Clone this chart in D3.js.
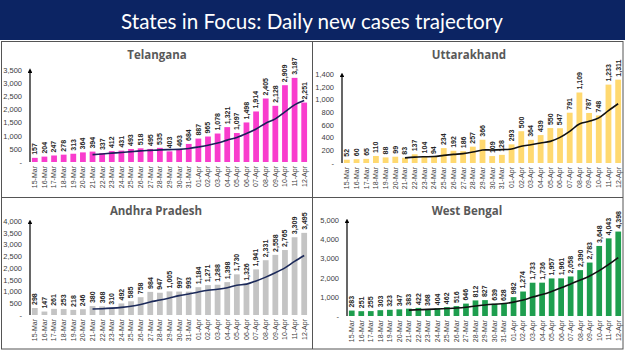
<!DOCTYPE html>
<html><head><meta charset="utf-8">
<script src="https://cdn.jsdelivr.net/npm/d3@7"></script>
<style>
body{margin:0;background:#fff;}
svg{display:block;}
</style></head>
<body>
<svg id="c" width="625" height="351"></svg>
<script>
const dates = ["15-Mar","16-Mar","17-Mar","18-Mar","19-Mar","20-Mar","21-Mar","22-Mar","23-Mar","24-Mar","25-Mar","26-Mar","27-Mar","28-Mar","29-Mar","30-Mar","31-Mar","01-Apr","02-Apr","03-Apr","04-Apr","05-Apr","06-Apr","07-Apr","08-Apr","09-Apr","10-Apr","11-Apr","12-Apr"];
const trendDates = dates.slice(6);

const telangana = [157,204,247,278,313,364,394,337,412,431,493,518,495,535,403,463,684,887,965,1078,1321,1097,1498,1914,2405,2128,2909,3187,2251];
const telanganaTrend = [280,305,335,361,392,421,440,460,470,477,513,569,633,716,829,928,1076,1251,1468,1634,1896,2163,2327];

const uttarakhand = [52,60,65,110,88,99,83,137,104,94,234,192,186,257,366,109,128,293,500,364,439,550,547,791,1109,787,748,1233,1311];
const uttarakhandTrend = [80,92,98,102,120,135,147,172,205,205,210,219,263,288,314,340,403,498,614,655,710,824,932];

const andhra = [298,147,261,253,218,246,380,368,310,492,585,758,984,947,1005,997,993,1184,1271,1288,1398,1730,1326,1941,2331,2558,2765,3309,3495];
const andhraTrend = [258,268,291,324,371,448,554,635,726,824,896,981,1054,1098,1162,1266,1313,1448,1612,1796,2007,2280,2532];

const westBengal = [283,251,255,303,323,347,383,422,368,404,462,516,646,812,827,639,628,982,1274,1733,1736,1957,1961,2058,2390,2783,3648,4043,4398];
const westBengalTrend = [306,326,343,364,387,415,457,519,576,615,647,721,830,985,1117,1278,1467,1672,1873,2088,2362,2691,3040];

const telanganaTicks = [0,500,1000,1500,2000,2500,3000,3500];
const uttarakhandTicks = [0,200,400,600,800,1000,1200,1400];
const andhraTicks = [0,500,1000,1500,2000,2500,3000,3500,4000];
const westBengalTicks = [0,1000,2000,3000,4000,5000];

const panels = [
  {name:"Telangana", vals:telangana, trend:telanganaTrend, ticks:telanganaTicks, color:"#f93ccd", lineColor:"#1c1f5a",
   titleX:157, titleY:59, x0:30, x1:309, y0:162, yT:69.6},
  {name:"Uttarakhand", vals:uttarakhand, trend:uttarakhandTrend, ticks:uttarakhandTicks, color:"#ffd970", lineColor:"#111111",
   titleX:469, titleY:59, x0:342, x1:623, y0:163, yT:74},
  {name:"Andhra Pradesh", vals:andhra, trend:andhraTrend, ticks:andhraTicks, color:"#c4c4c4", lineColor:"#1c2a5a",
   titleX:156, titleY:215, x0:30, x1:309, y0:315, yT:221},
  {name:"West Bengal", vals:westBengal, trend:westBengalTrend, ticks:westBengalTicks, color:"#1e9e4e", lineColor:"#111111",
   titleX:467, titleY:215, x0:347, x1:623, y0:316, yT:220}
];

const svg = d3.select("#c");
const defs = svg.append("defs");
defs.append("marker").attr("id","arr").attr("viewBox","0 0 6 6").attr("refX",3).attr("refY",3)
  .attr("markerWidth",4).attr("markerHeight",4).attr("orient","auto")
  .append("path").attr("d","M0,0 L6,3 L0,6 Z").attr("fill","#000");

// title bar
svg.append("rect").attr("x",0).attr("y",0).attr("width",625).attr("height",40).attr("fill","#0c2463");
const title = svg.append("text").attr("x",312).attr("y",29).attr("text-anchor","middle")
  .attr("fill","#fff").style("font-family","Lato, 'Open Sans', sans-serif").style("font-size","26px")
  .text("States in Focus: Daily new cases trajectory");
{
  const w = title.node().getComputedTextLength();
  const fs = 26 * 382 / w;
  title.style("font-size", fs.toFixed(2)+"px");
}

// panel borders
const bc = "#555";
svg.append("rect").attr("x",1.5).attr("y",41.5).attr("width",621.5).attr("height",307.5).attr("fill","none").attr("stroke",bc).attr("stroke-width",1);
svg.append("line").attr("x1",312.5).attr("x2",312.5).attr("y1",41.5).attr("y2",349).attr("stroke",bc);
svg.append("line").attr("x1",1.5).attr("x2",623).attr("y1",197.5).attr("y2",197.5).attr("stroke",bc);

panels.forEach(p => {
  const g = svg.append("g");
  const x = d3.scaleBand().domain(dates).range([p.x0, p.x1]).paddingInner(0.4).paddingOuter(0.2);
  const maxT = p.ticks[p.ticks.length-1];
  const y = d3.scaleLinear().domain([0, maxT]).range([p.y0, p.yT]);

  g.append("text").attr("x",p.titleX).attr("y",p.titleY).attr("text-anchor","middle")
    .attr("fill","#595959").style("font-family","'Open Sans', 'DejaVu Sans', sans-serif")
    .style("font-size","11.5px").style("font-weight","bold").text(p.name);

  // y axis
  const ya = d3.axisLeft(y).tickValues(p.ticks).tickSize(0).tickPadding(8)
    .tickFormat(v => v === 0 ? "-" : d3.format(",")(v));
  const ag = g.append("g").attr("transform",`translate(${p.x0},0)`).call(ya);
  ag.select(".domain").remove();
  ag.selectAll("text").attr("fill","#404040").style("font-family","'Liberation Sans', Arial, sans-serif").style("font-size","7.5px");
  g.append("line").attr("x1",p.x0).attr("x2",p.x0).attr("y1",p.y0).attr("y2",y(maxT)+1)
    .attr("stroke","#000").attr("stroke-width",1.2).attr("marker-end","url(#arr)");

  // bars
  g.selectAll("rect.bar").data(p.vals).join("rect").attr("class","bar")
    .attr("x",(d,i)=>x(dates[i])).attr("width",x.bandwidth())
    .attr("y",d=>y(d)).attr("height",d=>p.y0-y(d)).attr("fill",p.color);

  // value labels
  g.selectAll("text.vl").data(p.vals).join("text").attr("class","vl")
    .attr("transform",(d,i)=>`translate(${x(dates[i])+x.bandwidth()/2+2.4},${y(d)-3}) rotate(-90)`)
    .attr("text-anchor","start").attr("fill","#262626")
    .style("font-family","'Liberation Sans', Arial, sans-serif").style("font-size","7px").style("font-weight","bold")
    .text(d=>d3.format(",")(d));

  // x labels
  g.selectAll("text.xl").data(dates).join("text").attr("class","xl")
    .attr("transform",d=>`translate(${x(d)+x.bandwidth()/2+2.4},${p.y0+4}) rotate(-90)`)
    .attr("text-anchor","end").attr("fill","#404040")
    .style("font-family","'Liberation Sans', Arial, sans-serif").style("font-size","7px")
    .text(d=>d);

  // trend line
  const line = d3.line().x((d,i)=>x(trendDates[i])+x.bandwidth()/2).y(d=>y(d)).curve(d3.curveCatmullRom);
  g.append("path").datum(p.trend).attr("d",line).attr("fill","none").attr("stroke",p.lineColor).attr("stroke-width",1.6);
});
</script>
</body></html>
